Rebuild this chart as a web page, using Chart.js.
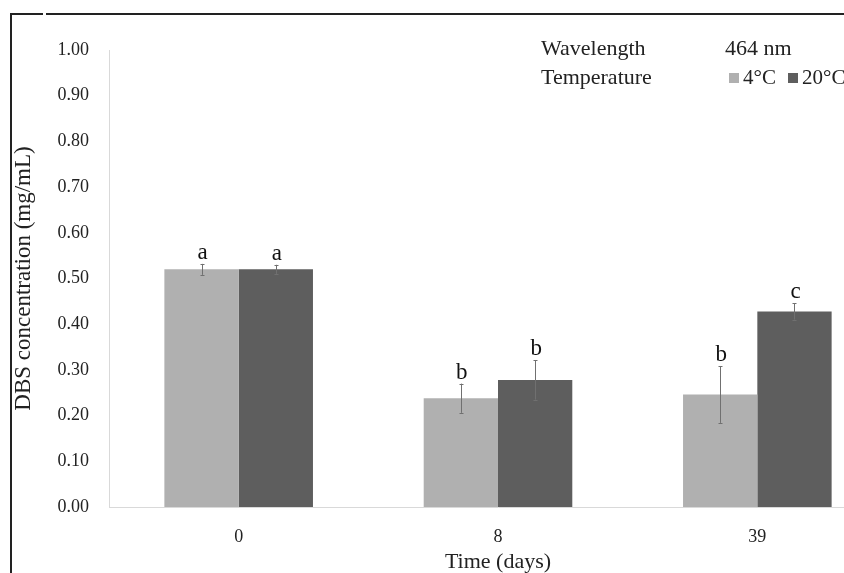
<!DOCTYPE html>
<html>
<head>
<meta charset="utf-8">
<script src="https://cdn.jsdelivr.net/npm/chart.js@4.4.0/dist/chart.umd.min.js"></script>
<style>
  html, body { margin: 0; padding: 0; overflow: hidden; background: #fff; width: 844px; height: 573px; }
  #wrap { position: absolute; left: 0; top: 0; width: 887px; height: 573px; }
  .frame { position: absolute; background: #222; pointer-events: none; }
</style>
</head>
<body>
<div id="wrap"><canvas id="c" width="887" height="573"></canvas></div>
<div class="frame" style="left:10px; top:13px; width:2px; height:560px;"></div>
<div class="frame" style="left:10px; top:13px; width:33px; height:2px;"></div>
<div class="frame" style="left:46px; top:13px; width:800px; height:2px;"></div>
<script>
const categories = ['0', '8', '39'];
const seriesLabels = ['4°C', '20°C'];
const cold = [0.52, 0.238, 0.246];
const warm = [0.52, 0.278, 0.428];
const coldErr = [0.012, 0.032, 0.062];
const warmErr = [0.010, 0.043, 0.018];
const coldLetters = ['a', 'b', 'b'];
const warmLetters = ['a', 'b', 'c'];
const yTicks = [0, 0.1, 0.2, 0.3, 0.4, 0.5, 0.6, 0.7, 0.8, 0.9, 1.0];
const legendRows = ['Wavelength', 'Temperature'];
const wavelengthValue = '464 nm';

const errors = [coldErr, warmErr];
const letters = [coldLetters, warmLetters];
const SERIF = '"Liberation Serif", "DejaVu Serif", serif';

const extras = {
  id: 'extras',
  afterDatasetsDraw(chart) {
    const ctx = chart.ctx;
    const y = chart.scales.y;
    ctx.save();
    chart.data.datasets.forEach((ds, i) => {
      const meta = chart.getDatasetMeta(i);
      meta.data.forEach((bar, j) => {
        const v = ds.data[j], e = errors[i][j];
        const x = Math.round(bar.x) + 0.5;
        const yt = y.getPixelForValue(v + e), yb = y.getPixelForValue(v - e);
        ctx.strokeStyle = '#707070';
        ctx.lineWidth = 1;
        ctx.beginPath();
        ctx.moveTo(x, yt); ctx.lineTo(x, yb);
        ctx.moveTo(x - 2, Math.round(yt) + 0.5); ctx.lineTo(x + 2, Math.round(yt) + 0.5);
        ctx.moveTo(x - 2, Math.round(yb) + 0.5); ctx.lineTo(x + 2, Math.round(yb) + 0.5);
        ctx.stroke();
        ctx.fillStyle = '#111';
        ctx.font = '23px ' + SERIF;
        ctx.textAlign = 'center';
        ctx.textBaseline = 'alphabetic';
        ctx.fillText(letters[i][j], bar.x + 1, yt - 5);
      });
    });
    // legend block
    ctx.fillStyle = '#222';
    ctx.textAlign = 'left';
    ctx.textBaseline = 'alphabetic';
    ctx.font = '22px ' + SERIF;
    ctx.fillText(legendRows[0], 541, 55);
    ctx.fillText(wavelengthValue, 725, 55);
    ctx.fillText(legendRows[1], 541, 84);
    const ds = chart.data.datasets;
    ctx.font = '21px ' + SERIF;
    ctx.fillStyle = ds[0].backgroundColor;
    ctx.fillRect(729, 73, 10, 10);
    ctx.fillStyle = '#222';
    ctx.fillText(ds[0].label, 743, 84);
    ctx.fillStyle = ds[1].backgroundColor;
    ctx.fillRect(788, 73, 10, 10);
    ctx.fillStyle = '#222';
    ctx.fillText(ds[1].label, 802, 84);
    ctx.restore();
  }
};

new Chart(document.getElementById('c'), {
  type: 'bar',
  data: {
    labels: categories,
    datasets: [
      { label: seriesLabels[0], data: cold, backgroundColor: '#b0b0b0', borderWidth: 0 },
      { label: seriesLabels[1], data: warm, backgroundColor: '#5e5e5e', borderWidth: 0 }
    ]
  },
  options: {
    responsive: false,
    animation: false,
    devicePixelRatio: 1,
    layout: { padding: { top: 50, left: 0, right: 0, bottom: 0 } },
    datasets: { bar: { categoryPercentage: 0.573, barPercentage: 1.0 } },
    plugins: { legend: { display: false }, tooltip: { enabled: false } },
    scales: {
      x: {
        grid: { display: false, drawTicks: false },
        border: { display: true, color: '#d9d9d9', width: 1 },
        ticks: { font: { family: SERIF, size: 18 }, color: '#222', padding: 19 },
        title: { display: true, text: 'Time (days)', font: { family: SERIF, size: 22, lineHeight: 1 }, color: '#222', padding: { top: 0, bottom: 0 } },
        afterFit(s) { s.height = 66; }
      },
      y: {
        min: 0, max: 1,
        afterBuildTicks(s) { s.ticks = yTicks.map(v => ({ value: v })); },
        grid: { display: false, drawTicks: false },
        border: { display: true, color: '#d9d9d9', width: 1 },
        ticks: { font: { family: SERIF, size: 18 }, color: '#222', padding: 20, callback: v => Number(v).toFixed(2) },
        title: { display: true, text: 'DBS concentration (mg/mL)', font: { family: SERIF, size: 23, lineHeight: 1 }, color: '#222', padding: { top: 12, bottom: 0 } },
        afterFit(s) { s.width = 109; }
      }
    }
  },
  plugins: [extras]
});
</script>
</body>
</html>
